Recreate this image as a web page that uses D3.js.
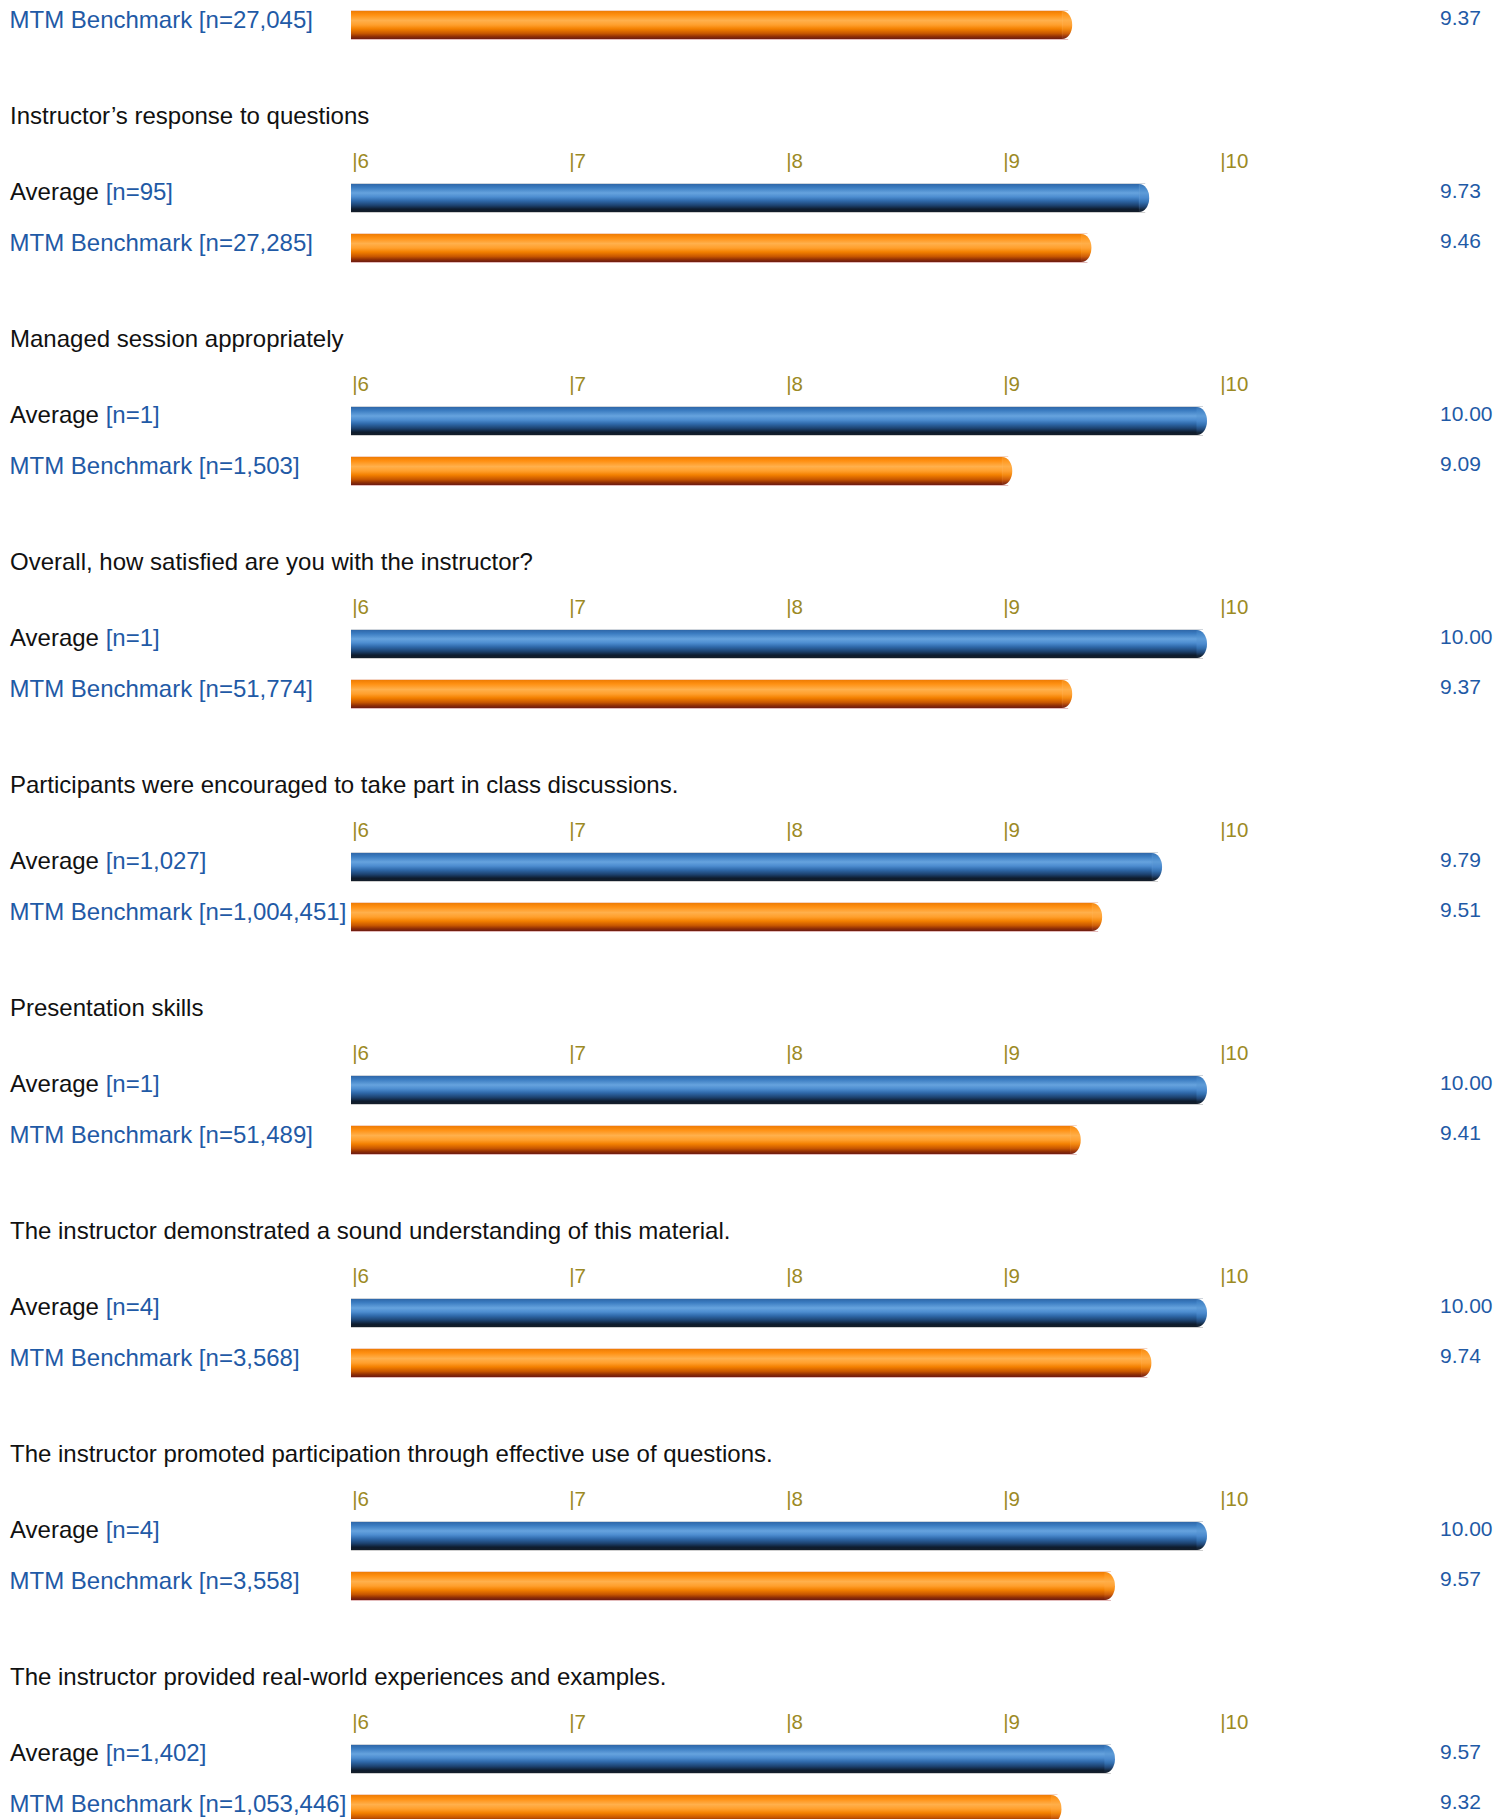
<!DOCTYPE html>
<html>
<head>
<meta charset="utf-8">
<script src="https://cdn.jsdelivr.net/npm/d3@7"></script>
<style>
  html, body { margin: 0; padding: 0; background: #ffffff; }
  svg { display: block; }
  text { font-family: "Liberation Sans", Arial, Helvetica, sans-serif; }
</style>
</head>
<body>
<svg id="chart" width="1508" height="1819"></svg>
<script>
// ---- data ----
const titles = [
  null,
  "Instructor’s response to questions",
  "Managed session appropriately",
  "Overall, how satisfied are you with the instructor?",
  "Participants were encouraged to take part in class discussions.",
  "Presentation skills",
  "The instructor demonstrated a sound understanding of this material.",
  "The instructor promoted participation through effective use of questions.",
  "The instructor provided real-world experiences and examples."
];
const averageN      = [null, "95", "1", "1", "1,027", "1", "4", "4", "1,402"];
const averageValues = [null, 9.73, 10.00, 10.00, 9.79, 10.00, 10.00, 10.00, 9.57];
const benchmarkN      = ["27,045", "27,285", "1,503", "51,774", "1,004,451", "51,489", "3,568", "3,558", "1,053,446"];
const benchmarkValues = [9.37, 9.46, 9.09, 9.37, 9.51, 9.41, 9.74, 9.57, 9.32];
const tickValues = [6, 7, 8, 9, 10];

// ---- layout ----
const svg = d3.select("#chart");
const textBlue = "#1f5aa6";
const tickColor = "#9c8a24";

const xBar  = d3.scaleLinear().domain([6, 10]).range([351, 1207]);
const xTick = d3.scaleLinear().domain([6, 10]).range([352.7, 1220.7]);
// baseline of each section title
const ySec  = d3.scaleLinear().domain([0, 1]).range([347 - 2 * 223, 347 - 223]);
const fmt = d3.format(".2f");
const barH = 28;

// ---- gradients ----
const defs = svg.append("defs");
function grad(id, stops) {
  const g = defs.append("linearGradient").attr("id", id)
    .attr("x1", 0).attr("y1", 0).attr("x2", 0).attr("y2", 1);
  stops.forEach(s => g.append("stop").attr("offset", s[0]).attr("stop-color", s[1]));
}
grad("gBlue", [[0, "#2f67a8"], [0.12, "#3a7bc0"], [0.32, "#66a3de"], [0.46, "#4d8dd0"],
  [0.6, "#2f69aa"], [0.76, "#1d4371"], [0.9, "#0e1c2e"], [1, "#141e2a"]]);
grad("gBlueCap", [[0, "#3873b4"], [0.12, "#4385c8"], [0.32, "#5e9cd8"], [0.5, "#4b8ace"],
  [0.65, "#3370b0"], [0.8, "#22497a"], [0.92, "#142538"], [1, "#1a2433"]]);
grad("gOrange", [[0, "#ee7c04"], [0.14, "#ff9012"], [0.34, "#ffb04c"], [0.5, "#ff9f2c"],
  [0.64, "#f38000"], [0.8, "#c85700"], [0.92, "#8c2c06"], [1, "#6c1c12"]]);
grad("gOrangeCap", [[0, "#f38a14"], [0.14, "#ff9a22"], [0.34, "#ffae48"], [0.5, "#ffa234"],
  [0.64, "#f58a10"], [0.8, "#d0600a"], [0.92, "#943410"], [1, "#742418"]]);

function drawBar(g, value, yTop, fillId, capId, lineTop, lineBot) {
  const x0 = xBar(6), xe = xBar(value);
  const rx = 10, ry = barH / 2;
  g.append("line").attr("x1", x0).attr("x2", xe - 4).attr("y1", yTop - 0.5).attr("y2", yTop - 0.5)
    .attr("stroke", lineTop).attr("stroke-width", 1);
  g.append("line").attr("x1", x0).attr("x2", xe - 4).attr("y1", yTop + barH + 0.5).attr("y2", yTop + barH + 0.5)
    .attr("stroke", lineBot).attr("stroke-width", 1);
  g.append("rect").attr("x", x0).attr("y", yTop).attr("width", xe - rx - x0).attr("height", barH)
    .attr("fill", `url(#${fillId})`);
  g.append("path")
    .attr("d", `M${xe - rx},${yTop} A${rx},${ry} 0 0 1 ${xe - rx},${yTop + barH} Z`)
    .attr("fill", `url(#${capId})`);
  g.append("rect").attr("x", xe - rx - 0.5).attr("y", yTop).attr("width", 1).attr("height", barH)
    .attr("fill", `url(#${capId})`);
}

titles.forEach((title, i) => {
  const base = ySec(i);
  const g = svg.append("g");

  if (title) {
    g.append("text").attr("x", 10).attr("y", base)
      .attr("font-size", 24).attr("fill", "#111").text(title);

    g.selectAll("text.tick").data(tickValues).enter().append("text")
      .attr("class", "tick")
      .attr("x", d => xTick(d) - 0.5).attr("y", base + 43.5)
      .attr("font-size", 20.5).attr("fill", tickColor)
      .text(d => "|" + d);
  }

  if (averageValues[i] != null) {
    const yT = base + 60;
    drawBar(g, averageValues[i], yT, "gBlue", "gBlueCap", "#cfd5dc", "#cfcfcf");
    const t = g.append("text").attr("x", 10).attr("y", yT + barH / 2 + 2).attr("font-size", 24).attr("fill", "#111");
    t.append("tspan").text("Average ");
    t.append("tspan").attr("fill", textBlue).text(`[n=${averageN[i]}]`);
    g.append("text").attr("x", 1440).attr("y", yT + barH / 2).attr("font-size", 21)
      .attr("fill", textBlue).text(fmt(averageValues[i]));
  }

  const yO = base + 110;
  drawBar(g, benchmarkValues[i], yO, "gOrange", "gOrangeCap", "#f4d4c4", "#e4bcbc");
  g.append("text").attr("x", 9.5).attr("y", yO + barH / 2 + 3).attr("font-size", 24)
    .attr("fill", textBlue).text(`MTM Benchmark [n=${benchmarkN[i]}]`);
  g.append("text").attr("x", 1440).attr("y", yO + barH / 2).attr("font-size", 21)
    .attr("fill", textBlue).text(fmt(benchmarkValues[i]));
});
</script>
</body>
</html>
